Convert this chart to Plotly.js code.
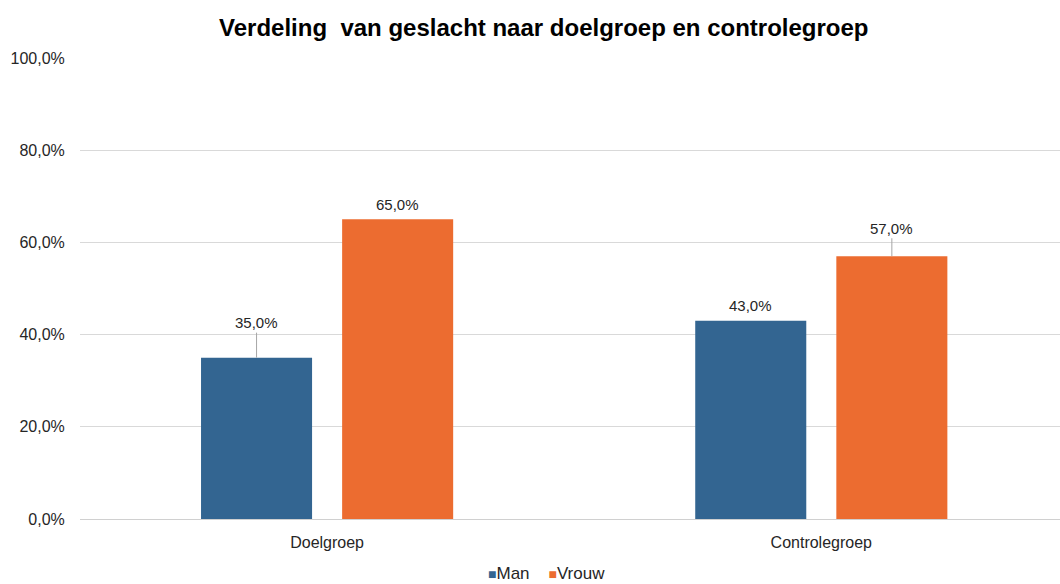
<!DOCTYPE html>
<html>
<head>
<meta charset="utf-8">
<script src="https://cdn.plot.ly/plotly-3.0.1.min.js"></script>
<style>html,body{margin:0;padding:0;background:#fff;}#chart{width:1060px;height:584px;}</style>
</head>
<body>
<div id="chart"></div>
<script>
const categories = ["Doelgroep", "Controlegroep"];
const seriesNames = ["Man", "Vrouw"];
const manValues = [0.35, 0.43];
const vrouwValues = [0.65, 0.57];
const yTickValues = [0, 0.2, 0.4, 0.6, 0.8, 1.0];

const colors = {Man: "#336591", Vrouw: "#EC6C30"};
const font = "Liberation Sans, Arial, sans-serif";
const textColor = "#262626";

const traces = [
  {type: "bar", name: seriesNames[0], x: categories, y: manValues, marker: {color: colors.Man}, hoverinfo: "none", showlegend: false},
  {type: "bar", name: seriesNames[1], x: categories, y: vrouwValues, marker: {color: colors.Vrouw}, hoverinfo: "none", showlegend: false}
];

const bargap = 0.429, bargroupgap = 0.213;
// label offsets (px above bar top) and whether a leader line is drawn
const labelStyle = {
  Man: [{off: 35, line: true}, {off: 15, line: false}],
  Vrouw: [{off: 15, line: false}, {off: 28, line: true}]
};
const groupShift = (1 - bargap) / 4; // half of a bar slot in category units
const annotations = [];
[[manValues, "Man", -1], [vrouwValues, "Vrouw", 1]].forEach(([vals, name, side]) => {
  vals.forEach((v, i) => {
    const st = labelStyle[name][i];
    annotations.push({
      x: i + side * groupShift, y: v, xref: "x", yref: "y",
      text: (v * 100).toFixed(1).replace(".", ",") + "%",
      showarrow: true, arrowhead: 0, arrowwidth: 1,
      arrowcolor: st.line ? "#a6a6a6" : "rgba(0,0,0,0)",
      ax: 0, ay: -st.off, standoff: 0,
      font: {family: font, size: 15, color: textColor}
    });
  });
});

// legend built from series names and colours
const legendText = seriesNames.map(n =>
  '<span style="color:' + colors[n] + ';font-size:14px">\u25A0</span>' + n
).join("    ");
annotations.push({
  xref: "paper", yref: "paper", x: 0.476, y: -0.119, xanchor: "center", yanchor: "middle",
  text: legendText, showarrow: false, font: {family: font, size: 17, color: textColor}
});

const layout = {
  width: 1060, height: 584,
  margin: {l: 80, r: 0, t: 58, b: 65},
  paper_bgcolor: "#fff", plot_bgcolor: "#fff",
  separators: ",.",
  title: {text: "<b>Verdeling  van geslacht naar doelgroep en controlegroep</b>", x: 0.513, xanchor: "center", y: 0.953, yanchor: "middle",
          font: {family: font, size: 24, color: "#000"}},
  barmode: "group", bargap: bargap, bargroupgap: bargroupgap,
  xaxis: {type: "category", range: [-0.5, 1.483], tickfont: {family: font, size: 16, color: textColor},
          showgrid: false, zeroline: false, showline: false, ticks: "outside", ticklen: 9, tickcolor: "rgba(0,0,0,0)", fixedrange: true},
  yaxis: {range: [0, 1], tickvals: yTickValues, tickformat: ".1%", tickfont: {family: font, size: 16, color: textColor},
          gridcolor: "#d9d9d9", gridwidth: 1, zeroline: true, zerolinecolor: "#d0d0d0", zerolinewidth: 1,
          showline: false, ticks: "outside", ticklen: 11, tickcolor: "rgba(0,0,0,0)", fixedrange: true},
  showlegend: false,
  annotations: annotations
};

Plotly.newPlot("chart", traces, layout, {displayModeBar: false, staticPlot: true});
</script>
</body>
</html>
